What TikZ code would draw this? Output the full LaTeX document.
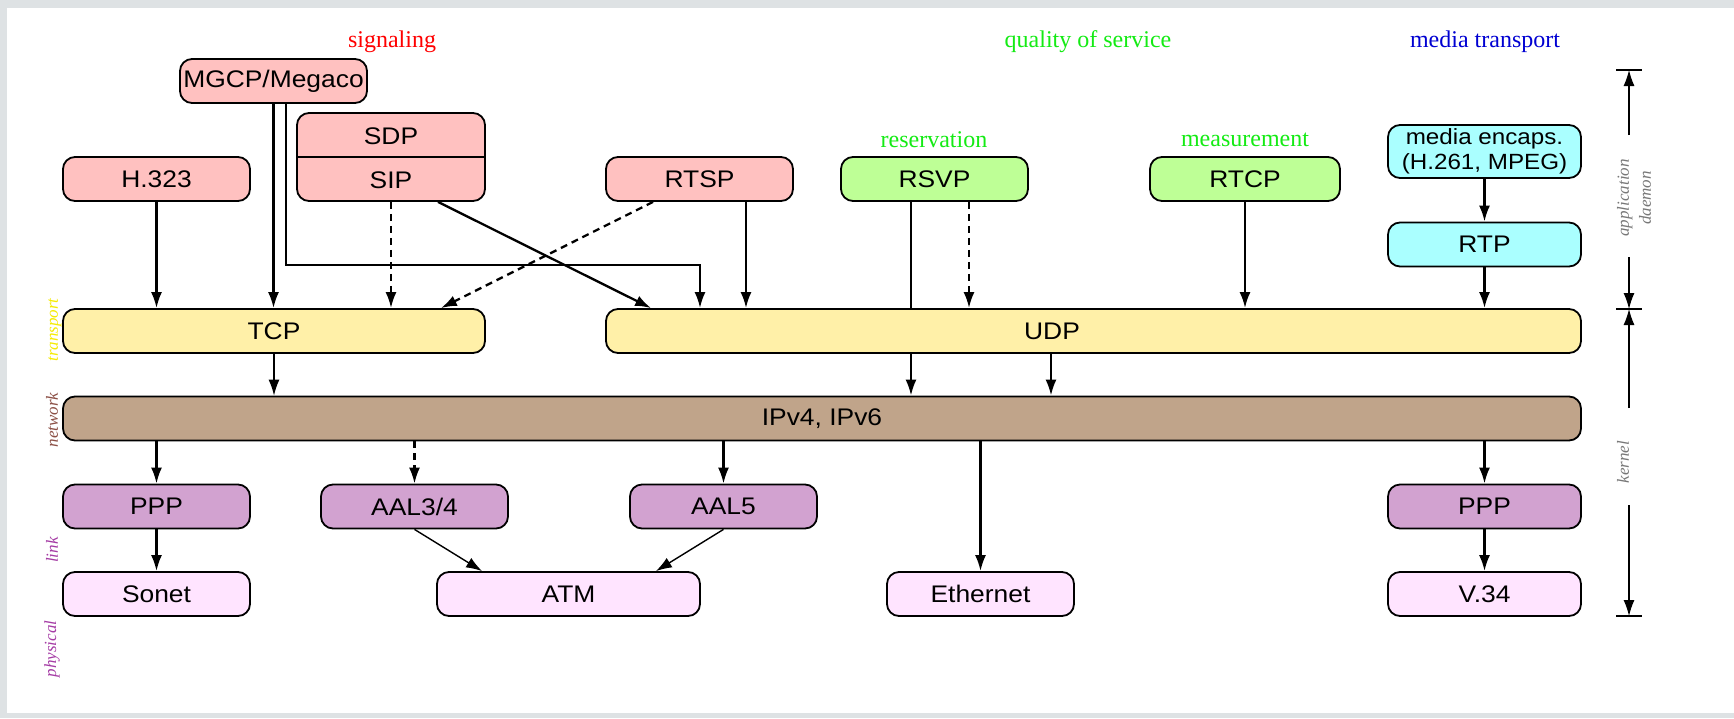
\documentclass[tikz,border=0pt]{standalone}
\usepackage{fontspec}
\setmainfont{Liberation Serif}
\newfontfamily\boxfont[FakeStretch=1.1]{Liberation Sans}
\usetikzlibrary{arrows.meta,calc}
\definecolor{sigc}{RGB}{255,193,192}
\definecolor{qosc}{RGB}{190,255,150}
\definecolor{medc}{RGB}{170,255,255}
\definecolor{trc}{RGB}{255,240,168}
\definecolor{netc}{RGB}{192,164,138}
\definecolor{linkc}{RGB}{210,162,208}
\definecolor{physc}{RGB}{255,228,255}
\definecolor{sigtxt}{RGB}{255,0,0}
\definecolor{qostxt}{RGB}{20,235,20}
\definecolor{medtxt}{RGB}{0,0,210}
\definecolor{trtxt}{RGB}{245,235,0}
\definecolor{nettxt}{RGB}{140,80,70}
\definecolor{linktxt}{RGB}{165,60,165}
\definecolor{graytxt}{RGB}{120,120,120}
\definecolor{bgc}{RGB}{222,226,228}
\begin{document}
\begin{tikzpicture}[x=0.5pt,y=-0.5pt,
  box/.style={draw, line width=0.9pt, rounded corners=6pt, inner sep=0pt,
    minimum height=22pt, font=\boxfont\fontsize{12}{14}\selectfont},
  bw/.style={minimum width=#1*0.5pt},
  boxtext/.style={inner sep=0pt, font=\boxfont\fontsize{12}{14}\selectfont},
  grouplabel/.style={inner sep=0pt, font=\fontsize{12}{14}\selectfont},
  sidelabel/.style={inner sep=0pt, rotate=90, font=\itshape\fontsize{8.5}{11}\selectfont},
  arr/.style={line width=1.15pt, -{Latex[length=8pt,width=5.5pt]}},
  tarr/.style={line width=0.7pt, -{Latex[length=8pt,width=5.5pt]}},
  plain/.style={line width=1.15pt},
  dsh/.style={dash pattern=on 3.5pt off 2.5pt},
  barr/.style={line width=0.6pt, -{Latex[length=8pt,width=5.5pt]}},
  tick/.style={line width=0.6pt}]
\useasboundingbox (0,0) rectangle (1734,718);
\fill[bgc] (0,0) rectangle (1734,718);
\fill[white] (7,8) rectangle (1734,713);

% group labels
\node[grouplabel, text=sigtxt] (lsig) at (392,42) {signaling};
\node[grouplabel, text=qostxt] (lqos) at (1088,42) {quality of service};
\node[grouplabel, text=medtxt] (lmed) at (1485,42) {media transport};
\node[grouplabel, text=qostxt] (lres) at (934,140) {reservation};
\node[grouplabel, text=qostxt] (lmeas) at (1245,140) {measurement};

% application layer
\node[box, fill=sigc, bw=187] (mgcp) at (273.5,81) {MGCP/Megaco};
\node[box, fill=sigc, bw=188, minimum height=44pt] (sipbox) at (391,157) {};
\draw[line width=0.9pt] (sipbox.west) -- (sipbox.east);
\node[boxtext] (sdp) at (391,136) {SDP};
\node[boxtext] (sip) at (391,180) {SIP};
\node[box, fill=sigc, bw=187] (h323) at (156.5,179) {H.323};
\node[box, fill=sigc, bw=187] (rtsp) at (699.5,179) {RTSP};
\node[box, fill=qosc, bw=187] (rsvp) at (934.5,179) {RSVP};
\node[box, fill=qosc, bw=190] (rtcp) at (1245,179) {RTCP};
\node[box, fill=medc, bw=193, minimum height=26.5pt, align=center,
  font=\boxfont\fontsize{11}{12.5}\selectfont] (encaps) at (1484.5,151.5) {media encaps.\\(H.261, MPEG)};
\node[box, fill=medc, bw=193] (rtp) at (1484.5,244.5) {RTP};

% transport
\node[box, fill=trc, bw=422] (tcp) at (274,331) {TCP};
\node[box, fill=trc, bw=975] (udp) at (1093.5,331) {};
\node[boxtext] (udplabel) at (1052,331) {UDP};

% network
\node[box, fill=netc, bw=1518] (ip) at (822,418.5) {IPv4, IPv6};

% link
\node[box, fill=linkc, bw=187] (ppp1) at (156.5,506.5) {PPP};
\node[box, fill=linkc, bw=187] (aal34) at (414.5,506.5) {AAL3/4};
\node[box, fill=linkc, bw=187] (aal5) at (723.5,506.5) {AAL5};
\node[box, fill=linkc, bw=193] (ppp2) at (1484.5,506.5) {PPP};

% physical
\node[box, fill=physc, bw=187] (sonet) at (156.5,594) {Sonet};
\node[box, fill=physc, bw=263] (atm) at (568.5,594) {ATM};
\node[box, fill=physc, bw=187] (eth) at (980.5,594) {Ethernet};
\node[box, fill=physc, bw=193] (v34) at (1484.5,594) {V.34};

% side labels
\node[sidelabel, text=trtxt] (ltr) at (55,330) {transport};
\node[sidelabel, text=nettxt] (lnet) at (52,420) {network};
\node[sidelabel, text=linktxt] (llink) at (52,550) {link};
\node[sidelabel, text=linktxt] (lphys) at (52,649) {physical};

% helper coordinates on box edges
\coordinate (mg2) at ($(mgcp.south)+(12.5,0)$);
\coordinate (mgbend) at (700,265);
\coordinate (sip2) at ($(sipbox.south)+(47,0)$);
\coordinate (udpin) at ($(udp.north west)+(46,0)$);
\coordinate (rt1) at ($(rtsp.south)+(-46.5,0)$);
\coordinate (tcpin) at ($(tcp.north east)+(-45,0)$);
\coordinate (rt2) at ($(rtsp.south)+(46.5,0)$);
\coordinate (rs1) at ($(rsvp.south)+(-23.5,0)$);
\coordinate (rs2) at ($(rsvp.south)+(34.5,0)$);
\coordinate (atm1) at ($(atm.north west)+(46,0)$);
\coordinate (atm2) at ($(atm.north east)+(-45,0)$);

% connectors: application -> transport
\draw[arr] (h323.south) -- (h323.south |- tcp.north);
\draw[arr] (mgcp.south) -- (mgcp.south |- tcp.north);
\draw[arr] (mg2) |- (mgbend) -- (mgbend |- udp.north);
\draw[arr, dsh] (sipbox.south) -- (sipbox.south |- tcp.north);
\draw[arr] (sip2) -- (udpin);
\draw[arr, dsh] (rt1) -- (tcpin);
\draw[arr] (rt2) -- (rt2 |- udp.north);
\draw[plain] (rs1) -- (rs1 |- udp.north);
\draw[arr, dsh] (rs2) -- (rs2 |- udp.north);
\draw[arr] (rtcp.south) -- (rtcp.south |- udp.north);
\draw[arr] (encaps.south) -- (rtp.north);
\draw[arr] (rtp.south) -- (rtp.south |- udp.north);

% transport -> network
\draw[tarr] (tcp.south) -- (tcp.south |- ip.north);
\draw[arr] (rs1 |- udp.south) -- (rs1 |- ip.north);
\coordinate (u2) at (1051,331);
\draw[arr] (u2 |- udp.south) -- (u2 |- ip.north);

% network -> link / physical
\draw[arr] (ppp1.north |- ip.south) -- (ppp1.north);
\draw[arr, dsh] (aal34.north |- ip.south) -- (aal34.north);
\draw[arr] (aal5.north |- ip.south) -- (aal5.north);
\draw[arr] (eth.north |- ip.south) -- (eth.north);
\draw[arr] (ppp2.north |- ip.south) -- (ppp2.north);

% link -> physical
\draw[arr] (ppp1.south) -- (sonet.north);
\draw[arr] (ppp2.south) -- (v34.north);
\draw[tarr] (aal34.south) -- (atm1);
\draw[tarr] (aal5.south) -- (atm2);

% right bracket
\coordinate (bt) at (1629,70);
\coordinate (bm) at (1629,309);
\coordinate (bb) at (1629,616);
\coordinate (a1) at (1629,135);
\coordinate (a2) at (1629,257);
\coordinate (k1) at (1629,408);
\coordinate (k2) at (1629,505);
\draw[tick] ($(bt)+(-13,0)$) -- ($(bt)+(13,0)$);
\draw[tick] ($(bm)+(-13,0)$) -- ($(bm)+(13,0)$);
\draw[tick] ($(bb)+(-13,0)$) -- ($(bb)+(13,0)$);
\node[sidelabel, text=graytxt, align=center] (lapp) at (1634,198) {application\\daemon};
\node[sidelabel, text=graytxt] (lkern) at (1623,462) {kernel};
\draw[barr] (a1) -- (bt);
\draw[barr] (a2) -- (bm);
\draw[barr] (k1) -- (bm);
\draw[barr] (k2) -- (bb);
\end{tikzpicture}
\end{document}
